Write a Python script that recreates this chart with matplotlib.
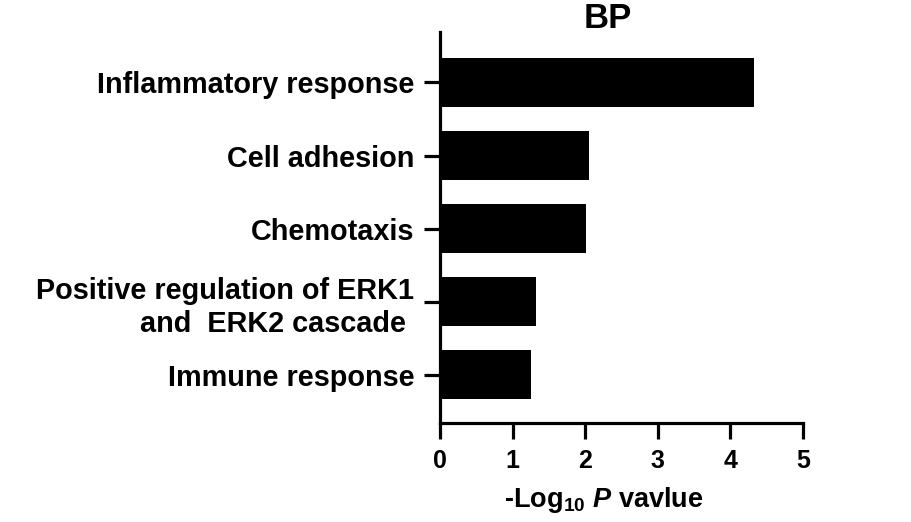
import matplotlib
matplotlib.use("Agg")
import matplotlib.pyplot as plt

categories = [
    "Inflammatory response",
    "Cell adhesion",
    "Chemotaxis",
    "Positive regulation of ERK1\nand  ERK2 cascade ",
    "Immune response",
]
values = [4.33, 2.05, 2.01, 1.32, 1.25]
x_ticks = [0, 1, 2, 3, 4, 5]

plt.rcParams["font.family"] = ["Liberation Sans", "DejaVu Sans"]
plt.rcParams["font.weight"] = "bold"
plt.rcParams["mathtext.fontset"] = "custom"
plt.rcParams["mathtext.rm"] = "Liberation Sans:bold"
plt.rcParams["mathtext.it"] = "Liberation Sans:bold:italic"
plt.rcParams["mathtext.bf"] = "Liberation Sans:bold"

W, H = 911, 522
fig = plt.figure(figsize=(W / 100, H / 100), dpi=100)
ax = fig.add_axes([440 / W, (H - 423) / H, (803 - 440) / W, (423 - 32) / H])

pos = list(range(len(categories)))
ax.barh(pos, values, height=0.67, color="black")
ax.set_ylim(4.66, -0.69)
ax.set_xlim(0, 5)
ax.set_yticks(pos)
ax.set_yticklabels(categories, fontsize=20.8, fontweight="bold", linespacing=1.22)
ax.set_xticks(x_ticks)
ax.set_xticklabels([str(t) for t in x_ticks], fontsize=18, fontweight="bold")

for s in ["top", "right"]:
    ax.spines[s].set_visible(False)
for s in ["left", "bottom"]:
    ax.spines[s].set_linewidth(2.3)
ax.tick_params(axis="both", width=2.3, length=11.5)
ax.tick_params(axis="y", pad=7)
ax.tick_params(axis="x", pad=7)

fig.text(604 / W, (H - 507) / H, r"-Log$_{10}$ $\mathit{P}$ vavlue",
         fontsize=19.5, fontweight="bold", ha="center", va="baseline")
fig.text(608 / W, 1 - 18 / H, "BP", fontsize=25, fontweight="bold", ha="center", va="center")

fig.savefig("out.png", dpi=100)
